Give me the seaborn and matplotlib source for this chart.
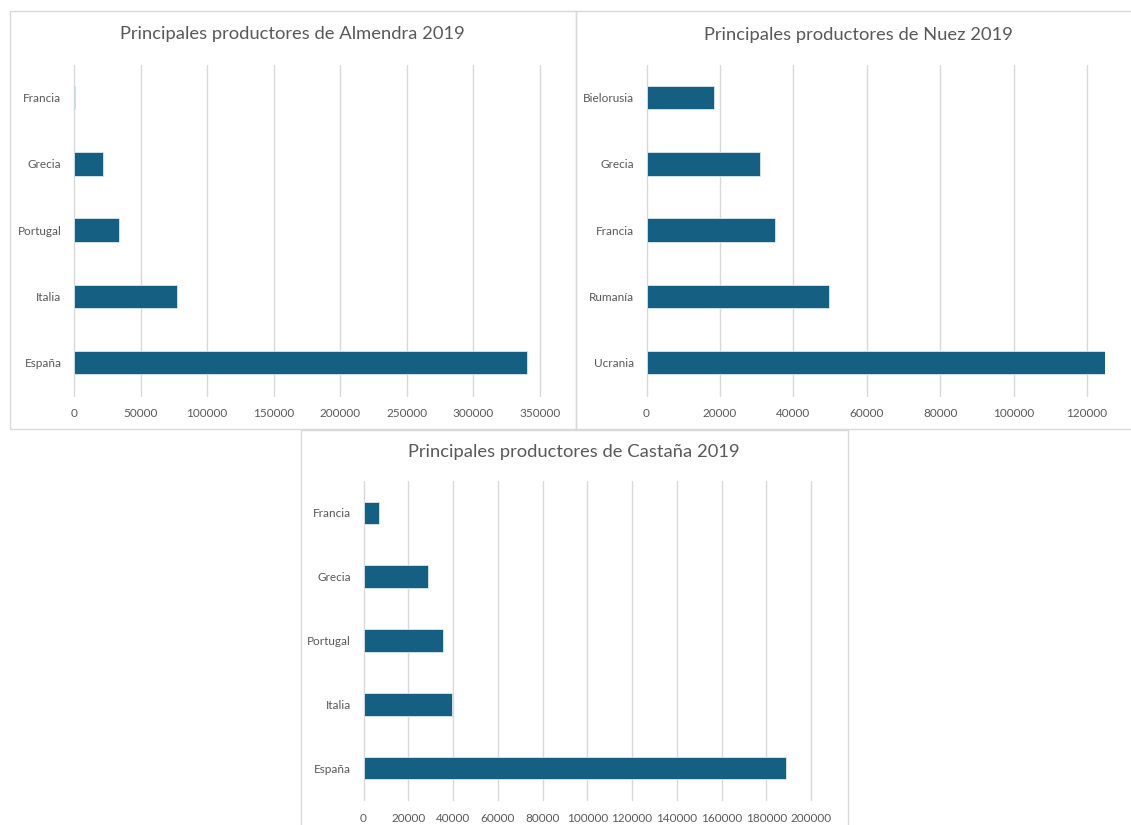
import matplotlib
matplotlib.use("Agg")
import matplotlib.pyplot as plt
from matplotlib.patches import Rectangle
import seaborn as sns
import pandas as pd

# ---- data ----
almendra_paises = ["Francia", "Grecia", "Portugal", "Italia", "España"]
almendra_valores = [700, 22000, 33500, 77000, 340000]

nuez_paises = ["Bielorusia", "Grecia", "Francia", "Rumanía", "Ucrania"]
nuez_valores = [18400, 31000, 34900, 49800, 125000]

castana_paises = ["Francia", "Grecia", "Portugal", "Italia", "España"]
castana_valores = [7100, 28700, 35500, 39600, 189000]

titulos = ["Principales productores de Almendra 2019",
           "Principales productores de Nuez 2019",
           "Principales productores de Castaña 2019"]

sns.set_theme(style="white")
plt.rcParams["font.family"] = ["Lato", "DejaVu Sans"]

W, H = 1131, 825
BAR = "#156082"
TXT = "#595959"
GRID = "#d9d9d9"

fig = plt.figure(figsize=(W / 100, H / 100), dpi=100)
fig.patch.set_facecolor("white")


def px_axes(x0, y0, x1, y1):
    return fig.add_axes([x0 / W, 1 - y1 / H, (x1 - x0) / W, (y1 - y0) / H])


def border(x0, y0, x1, y1):
    fig.add_artist(Rectangle((x0 / W, 1 - y1 / H), (x1 - x0) / W, (y1 - y0) / H,
                             transform=fig.transFigure, fill=False,
                             edgecolor=GRID, linewidth=1.0, zorder=0))


# panel borders
border(9.5, 11, 575.5, 429)
border(575.5, 11.5, 1145, 429)
border(300.5, 429.5, 848, 835)

panels = [
    (almendra_paises, almendra_valores, (74, 64.6, 540, 395.6), (0, 350000), 50000, titulos[0], (292.5, 34)),
    (nuez_paises, nuez_valores, (646.5, 64.6, 1105.3, 395.6), (0, 125000), 20000, titulos[1], (858, 35)),
    (castana_paises, castana_valores, (363.5, 481, 811, 800), (0, 200000), 20000, titulos[2], (574, 452)),
]

for paises, valores, box, xlim, step, titulo, tpos in panels:
    ax = px_axes(*box)
    df = pd.DataFrame({"pais": paises, "valor": valores})
    sns.barplot(data=df, x="valor", y="pais", orient="h", color=BAR,
                saturation=1, width=0.355, edgecolor="#dbe7ee", linewidth=0.6, ax=ax)
    ax.set_xlim(*xlim)
    ax.set_ylim(4.5, -0.5)
    ticks = [t for t in range(0, xlim[1] + 1, step) if t <= xlim[1]]
    ax.set_xticks(ticks)
    ax.set_xticklabels([str(t) for t in ticks])
    ax.grid(axis="x", color=GRID, linewidth=1.0)
    ax.grid(axis="y", visible=False)
    for gl in ax.get_xgridlines():
        gl.set_clip_on(False)
    ax.set_axisbelow(True)
    for s in ax.spines.values():
        s.set_visible(False)
    ax.set_xlabel("")
    ax.set_ylabel("")
    ax.tick_params(axis="x", length=0, pad=9, labelsize=8.5, labelcolor=TXT)
    ax.tick_params(axis="y", length=0, pad=9, labelsize=8.5, labelcolor=TXT)
    ax.set_facecolor("none")
    fig.text(tpos[0] / W, 1 - tpos[1] / H, titulo, ha="center", va="center",
             fontsize=13.2, color=TXT)

fig.savefig("out.png", dpi=100, facecolor="white")
